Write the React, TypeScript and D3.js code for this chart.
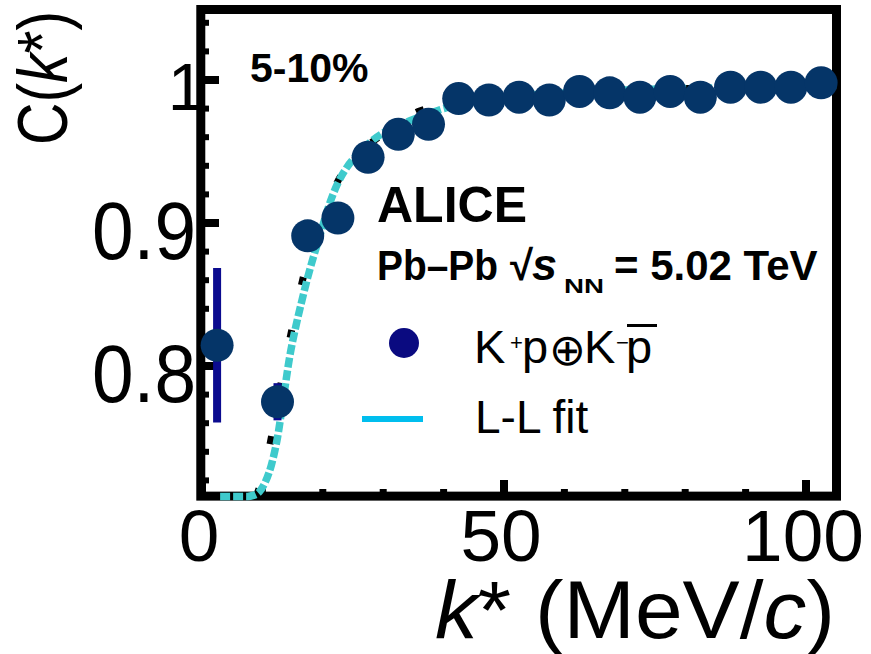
import React from "react";
import * as d3 from "d3";

// K+p (+) K-pbar correlation function, 5-10% Pb-Pb
const kStar = [2.5, 12.5, 17.5, 22.5, 27.5, 32.5, 37.5, 42.5, 47.5, 52.5, 57.5, 62.5, 67.5, 72.5, 77.5, 82.5, 87.5, 92.5, 97.5, 102.5];
const corr = [0.8145, 0.775, 0.891, 0.9035, 0.946, 0.962, 0.969, 0.987, 0.986, 0.988, 0.986, 0.992, 0.991, 0.988, 0.992, 0.988, 0.995, 0.995, 0.995, 0.998];
const corrErr = [0.054, 0.013, 0.01, 0.009, 0.008, 0.007, 0.006, 0.006, 0.005, 0.005, 0.005, 0.004, 0.004, 0.004, 0.004, 0.004, 0.003, 0.003, 0.003, 0.003];

// Lednicky-Lyuboshitz fit
const fitK = [3, 7.5, 8.5, 9.5, 10.5, 11.5, 12.5, 13.5, 14.5, 15.5, 16.5, 17.5, 18.5, 19.5, 21, 22.5, 24, 26, 28, 30, 33, 36, 40, 45, 50, 60, 70, 80, 90, 100, 105];
const fitC = [0.7088, 0.7088, 0.7095, 0.712, 0.719, 0.731, 0.75, 0.778, 0.806, 0.827, 0.845, 0.862, 0.877, 0.891, 0.912, 0.928, 0.939, 0.949, 0.957, 0.963, 0.969, 0.974, 0.98, 0.985, 0.988, 0.991, 0.993, 0.994, 0.995, 0.996, 0.9965];

// second model curve (black, dotted)
const altK = [9, 10, 11, 12, 13, 14, 15, 16, 17, 18, 19, 20, 21.5, 23, 25, 28, 31, 35.8, 40, 45, 50, 60, 70, 80, 90, 100, 105];
const altC = [0.709, 0.722, 0.74, 0.762, 0.786, 0.808, 0.828, 0.848, 0.866, 0.881, 0.895, 0.907, 0.921, 0.933, 0.944, 0.956, 0.965, 0.978, 0.982, 0.986, 0.989, 0.991, 0.993, 0.994, 0.995, 0.996, 0.9965];

const xMajor = [0, 50, 100];
const xMajorLabels = ["0", "50", "100"];
const xMinor = [10, 20, 30, 40, 60, 70, 80, 90];
const yMajor = [0.8, 0.9, 1.0];
const yMajorLabels = ["0.8", "0.9", "1"];
const yMinor = [0.72, 0.74, 0.76, 0.78, 0.82, 0.84, 0.86, 0.88, 0.92, 0.94, 0.96, 0.98, 1.02, 1.04];

const FONT = "'Liberation Sans', Arial, Helvetica, sans-serif";

export default function App() {
  const W = 871;
  const H = 654;
  const x = d3.scaleLinear().domain([0, 100]).range([202, 806]);
  const y = d3.scaleLinear().domain([0.8, 1.0]).range([366, 80]);

  const left = x(-0.2);
  const right = x(105.05);
  const top = y(1.0493);
  const bottom = y(0.709);

  const line = d3
    .line<[number, number]>()
    .x((d) => x(d[0]))
    .y((d) => y(d[1]))
    .curve(d3.curveMonotoneX);

  const fitPath = line(fitK.map((k, i) => [k, fitC[i]]) as [number, number][]) || "";
  const altPath = line(altK.map((k, i) => [k, altC[i]]) as [number, number][]) || "";

  const dataColor = "#053568";
  const errColor = "#0B0B8F";

  return (
    <svg
      width={W}
      height={H}
      viewBox={`0 0 ${W} ${H}`}
      style={{ position: "absolute", left: 0, top: 0, background: "#fff" }}
      fontFamily={FONT}
    >
      <rect x={0} y={0} width={W} height={H} fill="#fff" />

      {/* frame */}
      <rect x={left} y={top} width={right - left} height={bottom - top} fill="none" stroke="#000" strokeWidth={9} />

      {/* y ticks */}
      {yMajor.map((v) => (
        <line key={"ym" + v} x1={left} x2={219} y1={y(v)} y2={y(v)} stroke="#000" strokeWidth={8} />
      ))}
      {yMinor.map((v) => (
        <line key={"yn" + v} x1={left} x2={209} y1={y(v)} y2={y(v)} stroke="#000" strokeWidth={6} />
      ))}
      {/* x ticks */}
      {xMajor.map((v) => (
        <line key={"xm" + v} x1={x(v)} x2={x(v)} y1={bottom} y2={480} stroke="#000" strokeWidth={8} />
      ))}
      {xMinor.map((v) => (
        <line key={"xn" + v} x1={x(v)} x2={x(v)} y1={bottom} y2={489} stroke="#000" strokeWidth={7} />
      ))}

      {/* y tick labels */}
      {yMajor.map((v, i) => {
        const lab = yMajorLabels[i];
        const small = lab.length === 1;
        return (
          <text
            key={"yl" + v}
            x={small ? 205 : 196}
            y={y(v) + (small ? 30 : 36)}
            fontSize={small ? 67 : 82}
            textAnchor="end"
            textLength={small ? undefined : 104}
            lengthAdjust="spacingAndGlyphs"
            fill="#000"
          >
            {lab}
          </text>
        );
      })}

      {/* x tick labels */}
      {xMajor.map((v, i) => (
        <text key={"xl" + v} x={x(v) - 3} y={561} fontSize={73} textAnchor="middle" fill="#000">
          {xMajorLabels[i]}
        </text>
      ))}

      {/* axis titles */}
      <text x={435} y={638} fontSize={82} textLength={400} lengthAdjust="spacingAndGlyphs" fill="#000">
        <tspan fontStyle="italic">k</tspan>
        <tspan>* (MeV/</tspan>
        <tspan fontStyle="italic">c</tspan>
        <tspan>)</tspan>
      </text>
      <text
        transform="translate(67,145) rotate(-90)"
        x={0}
        y={0}
        fontSize={70}
        textLength={134}
        lengthAdjust="spacingAndGlyphs"
        fill="#000"
      >
        <tspan>C(</tspan>
        <tspan fontStyle="italic">k</tspan>
        <tspan>*)</tspan>
      </text>

      {/* model curves */}
      <path d={altPath} fill="none" stroke="#000" strokeWidth={7} strokeDasharray="8 46" />
      <path d={fitPath} fill="none" stroke="#3FCACC" strokeWidth={7.5} strokeDasharray="10 3" />

      {/* data */}
      {kStar.map((k, i) => (
        <line
          key={"e" + k}
          x1={x(k)}
          x2={x(k)}
          y1={y(corr[i] + corrErr[i])}
          y2={y(corr[i] - corrErr[i])}
          stroke={errColor}
          strokeWidth={8}
        />
      ))}
      {kStar.map((k, i) => (
        <circle key={"p" + k} cx={x(k)} cy={y(corr[i])} r={16.5} fill={dataColor} />
      ))}

      {/* labels */}
      <text x={250} y={82} fontSize={41} fontWeight="bold" fill="#000">5-10%</text>
      <text x={377} y={222} fontSize={50} fontWeight="bold" fill="#000">ALICE</text>
      <text y={280} fontSize={42} fontWeight="bold" fill="#000">
        <tspan x={377} textLength={121} lengthAdjust="spacingAndGlyphs">Pb–Pb</tspan>
        <tspan x={510}>√</tspan>
        <tspan x={532} fontSize={45} fontStyle="italic">s</tspan>
        <tspan x={564} y={293} fontSize={20} textLength={40} lengthAdjust="spacingAndGlyphs">NN</tspan>
        <tspan x={614} y={280}>= 5.02 TeV</tspan>
      </text>

      {/* legend */}
      <circle cx={404} cy={343} r={15} fill="#0A0A80" />
      <text y={363} fontSize={47} fill="#000">
        <tspan x={474}>K</tspan>
        <tspan x={510} y={350} fontSize={22}>+</tspan>
        <tspan x={522} y={363}>p</tspan>
        <tspan x={549} y={365} fontSize={44} fontFamily="'DejaVu Sans', sans-serif">⊕</tspan>
        <tspan x={584} y={363}>K</tspan>
        <tspan x={616} y={350} fontSize={22}>−</tspan>
        <tspan x={626} y={363}>p</tspan>
      </text>
      <line x1={627} x2={657} y1={325.5} y2={325.5} stroke="#000" strokeWidth={3} />

      <line x1={362} x2={423} y1={419} y2={419} stroke="#00BEEE" strokeWidth={6} />
      <text x={475} y={433} fontSize={46} fill="#000">L-L fit</text>
    </svg>
  );
}
